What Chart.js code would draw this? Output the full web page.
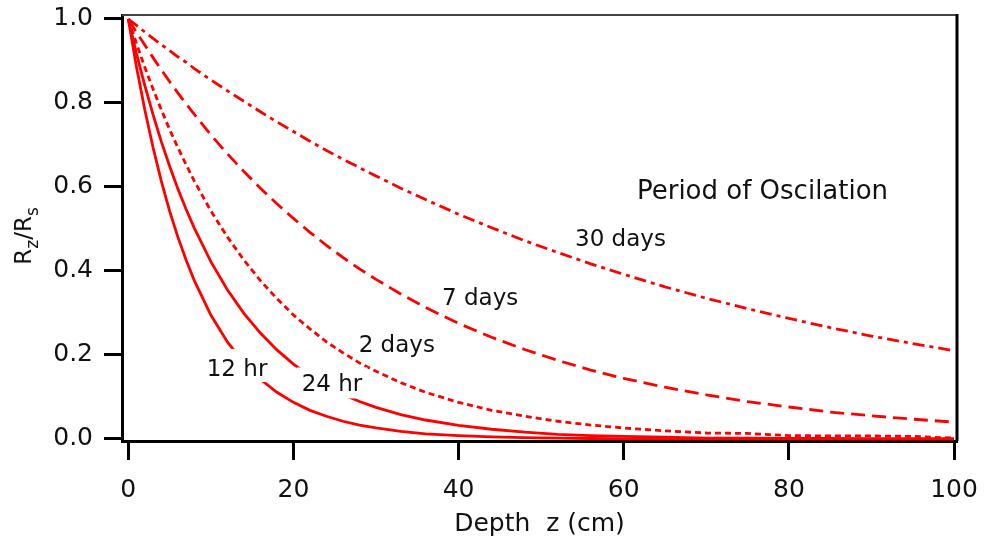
<!DOCTYPE html>
<html>
<head>
<meta charset="utf-8">
<script src="https://cdn.jsdelivr.net/npm/chart.js@4.4.0/dist/chart.umd.min.js"></script>
<style>
  html, body { margin: 0; padding: 0; background: #fff; }
  #wrap { width: 987px; height: 548px; }
</style>
</head>
<body>
<div id="wrap"><canvas id="chart" width="987" height="548"></canvas></div>
<script>
// depth in cm
const depth = [0, 1, 2, 3, 4, 5, 6, 7, 8, 10, 12, 14, 16, 18, 20, 22, 24, 26, 28, 30,
               33, 36, 40, 44, 48, 52, 56, 60, 65, 70, 75, 80, 85, 90, 95, 100];

// Rz/Rs, one value per depth
const hr12 = [1.00, 0.885, 0.784, 0.694, 0.614, 0.543, 0.481, 0.426, 0.377, 0.295, 0.231, 0.181,
              0.142, 0.111, 0.087, 0.068, 0.054, 0.042, 0.033, 0.026, 0.018, 0.012, 0.008, 0.005,
              0.003, 0.002, 0.001, 0, 0, 0, 0, 0, 0, 0, 0, 0];
const hr24 = [1.00, 0.917, 0.842, 0.772, 0.708, 0.650, 0.596, 0.547, 0.502, 0.422, 0.355, 0.299,
              0.252, 0.212, 0.178, 0.150, 0.126, 0.106, 0.089, 0.075, 0.058, 0.045, 0.032, 0.023,
              0.016, 0.011, 0.008, 0.006, 0.004, 0.002, 0.002, 0.001, 0.001, 0, 0, 0];
const day2 = [1.00, 0.941, 0.885, 0.833, 0.784, 0.737, 0.694, 0.653, 0.614, 0.543, 0.481, 0.426,
              0.377, 0.334, 0.295, 0.262, 0.231, 0.205, 0.181, 0.161, 0.134, 0.111, 0.087, 0.068,
              0.054, 0.042, 0.033, 0.026, 0.019, 0.014, 0.013, 0.008, 0.007, 0.007, 0.006, 0.002];
const day7 = [1.00, 0.968, 0.938, 0.908, 0.879, 0.851, 0.824, 0.798, 0.773, 0.724, 0.679, 0.637,
              0.597, 0.560, 0.525, 0.492, 0.461, 0.432, 0.405, 0.380, 0.345, 0.313, 0.275, 0.242,
              0.213, 0.187, 0.164, 0.144, 0.123, 0.105, 0.089, 0.076, 0.064, 0.055, 0.047, 0.040];
const day30 = [1.00, 0.985, 0.969, 0.954, 0.939, 0.925, 0.910, 0.897, 0.882, 0.855, 0.829, 0.804,
               0.779, 0.755, 0.732, 0.709, 0.687, 0.666, 0.646, 0.626, 0.597, 0.570, 0.535, 0.503,
               0.472, 0.444, 0.417, 0.392, 0.362, 0.335, 0.310, 0.287, 0.265, 0.245, 0.227, 0.210];

const xTicks = [0, 20, 40, 60, 80, 100];
const yTicks = [0, 0.2, 0.4, 0.6, 0.8, 1.0];

// text placed in data units (left edge, middle of caps)
const curveLabels = [
    { text: 'Period of Oscilation', x: 61.6, y: 0.595, size: 26 },
    { text: '30 days', x: 54.1, y: 0.479, size: 23 },
    { text: '7 days', x: 38.0, y: 0.339, size: 23 },
    { text: '2 days', x: 27.9, y: 0.226, size: 23 },
    { text: '12 hr', x: 9.5, y: 0.170, size: 23, mask: { above: 27, below: 6, left: 7, right: 5 } },
    { text: '24 hr', x: 21.0, y: 0.133, size: 23, mask: { above: 24, below: 7, left: 5, right: 5 } },
];

const RED = '#ff0000';
const TEXT = '#111111';
const FONT = 'DejaVu Sans';

function series(vals) {
    return depth.map((z, i) => ({ x: z, y: vals[i] }));
}

function line(vals, dash) {
    return {
        data: series(vals),
        borderColor: RED,
        borderWidth: 2.8,
        borderDash: dash,
        pointRadius: 0,
        tension: 0,
        fill: false,
    };
}

const labelPlugin = {
    id: 'curveLabels',
    afterDatasetsDraw(chart) {
        const { ctx, scales: { x, y } } = chart;
        ctx.save();
        curveLabels.forEach(l => {
            ctx.font = l.size + 'px "' + FONT + '"';
            const px = x.getPixelForValue(l.x);
            const base = y.getPixelForValue(l.y) + 0.365 * l.size;
            if (l.mask) {
                const w = ctx.measureText(l.text).width;
                ctx.fillStyle = '#fff';
                ctx.fillRect(px - l.mask.left, base - l.mask.above,
                             w + l.mask.left + l.mask.right, l.mask.above + l.mask.below);
            }
            ctx.fillStyle = TEXT;
            ctx.textBaseline = 'alphabetic';
            ctx.fillText(l.text, px, base);
        });
        ctx.restore();
    }
};

const framePlugin = {
    id: 'frame',
    afterDraw(chart) {
        const { ctx, chartArea: a } = chart;
        ctx.save();
        ctx.strokeStyle = '#444';
        ctx.lineWidth = 2;
        ctx.beginPath();
        ctx.moveTo(a.left, a.top);
        ctx.lineTo(a.right, a.top);
        ctx.stroke();
        ctx.strokeStyle = '#000';
        ctx.lineWidth = 3;
        ctx.beginPath();
        ctx.moveTo(a.right, a.top - 1);
        ctx.lineTo(a.right, a.bottom);
        ctx.stroke();
        ctx.restore();
    }
};

// y title with subscripts: R_z/R_s
const yTitlePlugin = {
    id: 'yTitle',
    afterDraw(chart) {
        const ctx = chart.ctx;
        const parts = [
            { t: 'R', size: 23, drop: 0 },
            { t: 'z', size: 17, drop: 7 },
            { t: '/R', size: 23, drop: 0 },
            { t: 's', size: 17, drop: 7 },
        ];
        ctx.save();
        let total = 0;
        parts.forEach(p => {
            ctx.font = p.size + 'px "' + FONT + '"';
            p.w = ctx.measureText(p.t).width;
            total += p.w;
        });
        ctx.translate(31, 236);
        ctx.rotate(-Math.PI / 2);
        ctx.fillStyle = TEXT;
        ctx.textBaseline = 'alphabetic';
        let cx = -total / 2;
        parts.forEach(p => {
            ctx.font = p.size + 'px "' + FONT + '"';
            ctx.fillText(p.t, cx, p.drop);
            cx += p.w;
        });
        ctx.restore();
    }
};

new Chart(document.getElementById('chart'), {
    type: 'line',
    data: {
        datasets: [
            line(hr12, []),
            line(hr24, []),
            line(day2, [6, 4]),
            line(day7, [14, 7]),
            line(day30, [12, 5, 4, 5]),
        ],
    },
    options: {
        responsive: false,
        animation: false,
        devicePixelRatio: 1,
        layout: { padding: { top: 15, right: 30, left: 0, bottom: 0 } },
        plugins: {
            legend: { display: false },
            tooltip: { enabled: false },
        },
        scales: {
            x: {
                type: 'linear',
                min: -0.76,
                max: 100.36,
                afterBuildTicks: s => { s.ticks = xTicks.map(v => ({ value: v })); },
                afterFit: s => { s.height = 107; s.paddingLeft = 0; s.paddingRight = 0; },
                grid: { drawOnChartArea: false, tickLength: 19, tickWidth: 3, tickColor: '#000' },
                border: { color: '#000', width: 3 },
                ticks: {
                    color: TEXT,
                    font: { family: FONT, size: 25 },
                    padding: 15,
                    maxRotation: 0,
                    autoSkip: false,
                    callback: v => String(v),
                },
                title: {
                    display: true,
                    text: 'Depth  z (cm)',
                    color: TEXT,
                    font: { family: FONT, size: 25 },
                    padding: { top: 0, bottom: 9 },
                },
            },
            y: {
                type: 'linear',
                min: -0.005,
                max: 1.0095,
                afterBuildTicks: s => { s.ticks = yTicks.map(v => ({ value: v })); },
                afterFit: s => { s.width = 122; s.paddingTop = 0; s.paddingBottom = 0; },
                grid: { drawOnChartArea: false, tickLength: 18, tickWidth: 3, tickColor: '#000' },
                border: { color: '#000', width: 3 },
                ticks: {
                    color: TEXT,
                    font: { family: FONT, size: 25 },
                    padding: 11,
                    callback: v => v.toFixed(1),
                },
            },
        },
    },
    plugins: [labelPlugin, framePlugin, yTitlePlugin],
});
</script>
</body>
</html>
